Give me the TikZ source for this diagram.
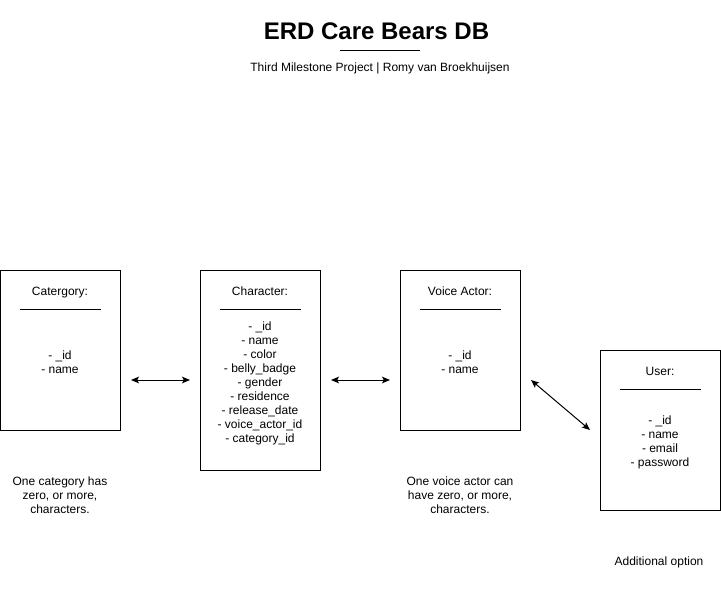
\documentclass[tikz,border=0pt]{standalone}
\usepackage{fontspec}
\setmainfont{Liberation Sans}
\usetikzlibrary{arrows.meta,calc}
\begin{document}
\begin{tikzpicture}[x=0.75pt,y=-0.75pt,
  entity/.style={draw=black,line width=0.75pt,fill=white,inner sep=0pt},
  lbl/.style={inner sep=0pt,font=\fontsize{9pt}{10.5pt}\selectfont,align=center,text=black},
  sepline/.style={draw=black,line width=0.75pt},
  rel/.style={draw=black,line width=0.75pt,{Stealth[length=6pt,width=5pt,inset=1.3pt]}-{Stealth[length=6pt,width=5pt,inset=1.3pt]}}]
\useasboundingbox[fill=white] (0,0) rectangle (721,601);
% title
\node[inner sep=0pt,anchor=base,font=\fontsize{18pt}{21pt}\selectfont\bfseries] (title) at (376.5,39) {ERD Care Bears DB};
\coordinate (tl1) at (340,50);
\coordinate (tl2) at (420,50);
\draw[sepline] (tl1) -- (tl2);
\node[lbl,anchor=base] (subtitle) at (380,71.5) {Third Milestone Project | Romy van Broekhuijsen};
% entities
\node[entity,minimum width=90pt,minimum height=120pt] (cat) at (60,350) {};
\node[entity,minimum width=90pt,minimum height=150pt] (char) at (260,370) {};
\node[entity,minimum width=90pt,minimum height=120pt] (va) at (460,350) {};
\node[entity,minimum width=90pt,minimum height=120pt] (user) at (660,430) {};
% titles
\node[lbl,anchor=base] (cattitle) at (60,295) {Catergory:};
\node[lbl,anchor=base] (chartitle) at (260,295) {Character:};
\node[lbl,anchor=base] (vatitle) at (460,295) {Voice Actor:};
\node[lbl,anchor=base] (usertitle) at (660,375) {User:};
% separators
\draw[sepline] ($(cat.north west)+(20,40)$) -- ($(cat.north east)+(-20,40)$);
\draw[sepline] ($(char.north west)+(20,40)$) -- ($(char.north east)+(-20,40)$);
\draw[sepline] ($(va.north west)+(20,40)$) -- ($(va.north east)+(-20,40)$);
\draw[sepline] ($(user.north west)+(20,40)$) -- ($(user.north east)+(-20,40)$);
% fields (base anchor = last line)
\node[lbl,anchor=base] (catfields) at (60,373) {- \_id\\- name};
\node[lbl,anchor=base] (charfields) at (260,442) {- \_id\\- name\\- color\\- belly\_badge\\- gender\\- residence\\- release\_date\\- voice\_actor\_id\\- category\_id};
\node[lbl,anchor=base] (vafields) at (460,373) {- \_id\\- name};
\node[lbl,anchor=base] (userfields) at (660,466) {- \_id\\- name\\- email\\- password};
% relations
\coordinate (r1a) at (131,380);
\coordinate (r1b) at (190,380);
\coordinate (r2a) at (331,380);
\coordinate (r2b) at (390,380);
\coordinate (r3a) at (531,380);
\coordinate (r3b) at (590,430);
\draw[rel] (r1a) -- (r1b);
\draw[rel] (r2a) -- (r2b);
\draw[rel] (r3a) -- (r3b);
% notes
\node[lbl,anchor=base] (catnote) at (60,513) {One category has\\zero, or more,\\characters.};
\node[lbl,anchor=base] (vanote) at (460,513) {One voice actor can\\have zero, or more,\\characters.};
\node[lbl,anchor=base] (usernote) at (659,565) {Additional option};
\end{tikzpicture}
\end{document}
